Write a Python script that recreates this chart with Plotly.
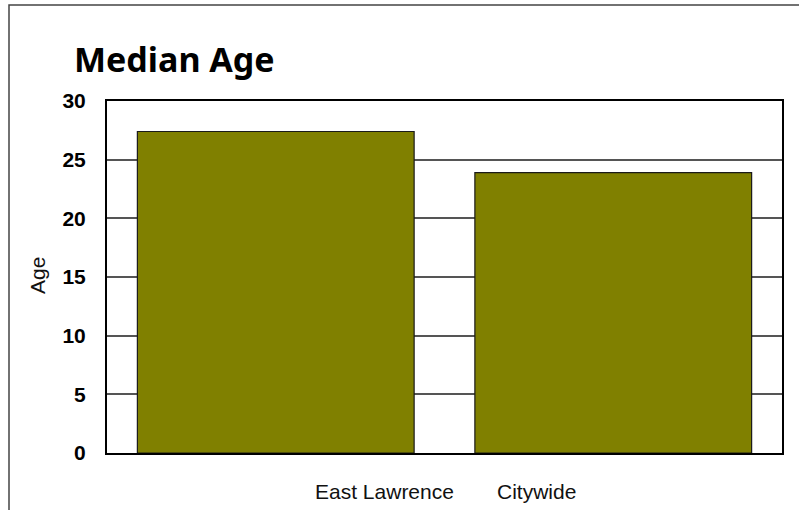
import plotly.graph_objects as go

# Median age by area
categories = ["East Lawrence", "Citywide"]
median_age = [27.4, 23.9]
y_ticks = [0, 5, 10, 15, 20, 25, 30]

W, H = 799, 510
L, R, T, B = 107, 17, 101, 57
pw, ph = W - L - R, H - T - B


def px_x(x):
    return (x - L) / pw


def px_y(y):
    return (H - B - y) / ph


fig = go.Figure()
fig.add_trace(go.Bar(
    x=categories,
    y=median_age,
    marker=dict(color="#808000", line=dict(color="#1a1a1a", width=1.2)),
    hoverinfo="x+y",
))

label_font = dict(family="Liberation Sans, Arial, sans-serif", size=21, color="#111")

annotations = [
    dict(text="Median Age", xref="paper", yref="paper", x=px_x(72), y=px_y(59),
         xanchor="left", yanchor="middle", showarrow=False,
         font=dict(family="Comic Sans MS, Noto Sans, sans-serif", size=34, color="#000", weight="bold")),
    dict(text="Age", xref="paper", yref="paper", x=px_x(37), y=px_y(276),
         xanchor="center", yanchor="middle", textangle=-90, showarrow=False, font=label_font),
]
# category labels sit below the axis, slightly toward the middle
for name, cx in zip(categories, [384.5, 536.5]):
    annotations.append(dict(text=name, xref="paper", yref="paper", x=px_x(cx), y=px_y(491),
                            xanchor="center", yanchor="middle", showarrow=False, font=label_font))

fig.update_layout(
    width=W, height=H,
    margin=dict(l=L, r=R, t=T, b=B, pad=0),
    paper_bgcolor="white", plot_bgcolor="white",
    bargap=0.18,
    showlegend=False,
    annotations=annotations,
    shapes=[
        # outer chart frame
        dict(type="rect", xref="paper", yref="paper",
             x0=px_x(9), x1=px_x(820), y0=px_y(540), y1=px_y(5),
             line=dict(color="#444", width=1.5), fillcolor="rgba(0,0,0,0)", layer="below"),
    ],
    xaxis=dict(showticklabels=False, ticks="", showgrid=False, zeroline=False,
               showline=True, linecolor="#000", linewidth=2, mirror=True),
    yaxis=dict(range=[0, 30], tickvals=y_ticks, ticks="", ticklabelstandoff=15,
               tickfont=dict(family="Liberation Sans, Arial, sans-serif", size=21, color="#000", weight="bold"),
               showgrid=True, gridcolor="#555", gridwidth=1.5, zeroline=False,
               showline=True, linecolor="#000", linewidth=2, mirror=True),
)

fig.write_html("out.html")
